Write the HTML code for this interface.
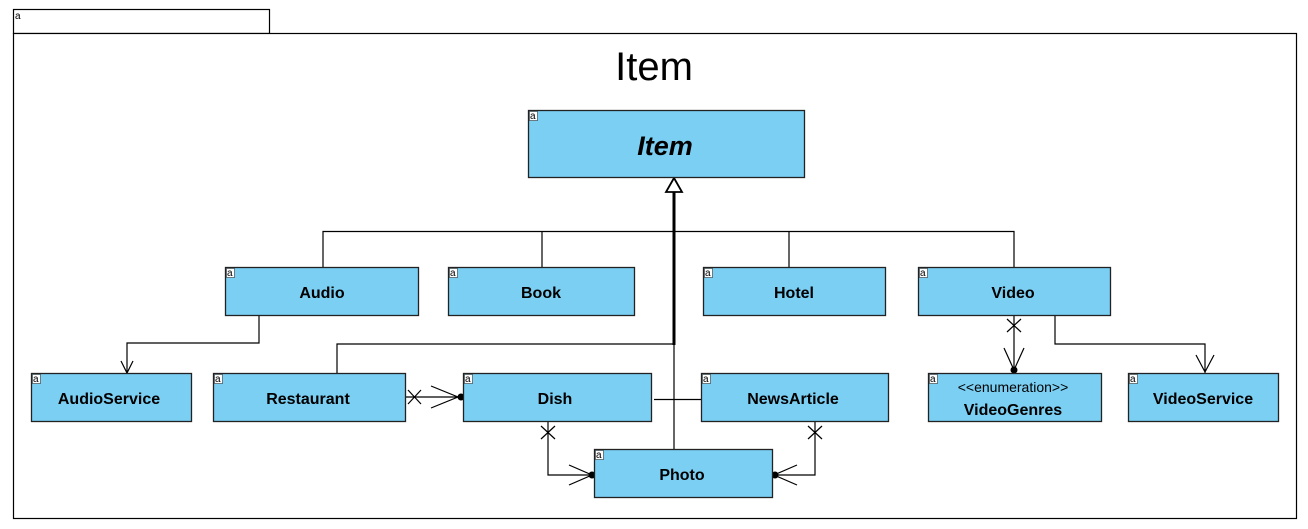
<!DOCTYPE html>
<html><head><meta charset="utf-8"><style>
html,body{margin:0;padding:0;background:#fff;}
svg{display:block;}
text{font-family:"Liberation Sans",Arial,sans-serif;}
.b{fill:#7acff3;stroke:#222;stroke-width:1.3;}
.t{font-weight:bold;font-size:16px;text-anchor:middle;fill:#000;}
.l{stroke:#000;stroke-width:1.2;fill:none;}
.a{font-size:10px;fill:#000;}
</style></head><body>
<svg width="1308" height="529" viewBox="0 0 1308 529">
<rect x="0" y="0" width="1308" height="529" fill="#fff"/>
<rect x="13.5" y="9.5" width="256" height="24" fill="#fff" stroke="#000" stroke-width="1.2"/>
<text x="15" y="19" class="a">a</text>
<rect x="13.5" y="33.5" width="1283" height="485" fill="#fff" stroke="#000" stroke-width="1.2"/>
<text x="654" y="80" font-size="40" text-anchor="middle">Item</text>

<g class="l">
<path d="M323 267V231.5H1014V267M542 231.5V267M789 231.5V267"/>
<path d="M337 373V344H674"/>
<path d="M654 399.5H701M674 344V449"/>
<path d="M259 315V343H127V373"/>
<path d="M121 361L127 373L133 361"/>
<path d="M405 397H461M431 386L458 397L431 408"/>
<path d="M408 390L421 404M421 390L408 404"/>
<path d="M548 421V475H592M569 465L592 475L569 485"/>
<path d="M541 426L555 439M555 426L541 439"/>
<path d="M815 421V475H774M797 465L774 475L797 485"/>
<path d="M808 426L822 439M822 426L808 439"/>
<path d="M1014 315V371M1004 348L1014 370L1024 348"/>
<path d="M1007 319L1021 332M1021 319L1007 332"/>
<path d="M1055 315V344H1205V373M1196 355L1205 372L1214 355"/>
</g>
<line x1="674" y1="192" x2="674" y2="345" stroke="#000" stroke-width="3"/>
<polygon points="674,178 666,192 682,192" fill="#fff" stroke="#000" stroke-width="1.8"/>
<circle cx="461" cy="397" r="3.5"/>
<circle cx="592" cy="475" r="3.5"/>
<circle cx="775" cy="475" r="3.5"/>
<circle cx="1014" cy="370" r="3.5"/>

<g>
<rect class="b" x="528.5" y="110.5" width="276" height="67"/>
<text x="665" y="155" font-size="27" font-weight="bold" font-style="italic" text-anchor="middle">Item</text>
<rect class="b" x="225.5" y="267.5" width="193" height="48"/><text class="t" x="322" y="298">Audio</text>
<rect class="b" x="448.5" y="267.5" width="186" height="48"/><text class="t" x="541" y="298">Book</text>
<rect class="b" x="703.5" y="267.5" width="182" height="48"/><text class="t" x="794" y="298">Hotel</text>
<rect class="b" x="918.5" y="267.5" width="192" height="48"/><text class="t" x="1013" y="298">Video</text>
<rect class="b" x="31.5" y="373.5" width="160" height="48"/><text class="t" x="109" y="404">AudioService</text>
<rect class="b" x="213.5" y="373.5" width="192" height="48"/><text class="t" x="308" y="404">Restaurant</text>
<rect class="b" x="463.5" y="373.5" width="188" height="48"/><text class="t" x="555" y="404">Dish</text>
<rect class="b" x="701.5" y="373.5" width="187" height="48"/><text class="t" x="793" y="404">NewsArticle</text>
<rect class="b" x="928.5" y="373.5" width="173" height="48"/>
<text x="1013" y="392" font-size="14" text-anchor="middle">&lt;&lt;enumeration&gt;&gt;</text>
<text class="t" x="1013" y="415">VideoGenres</text>
<rect class="b" x="1128.5" y="373.5" width="150" height="48"/><text class="t" x="1203" y="404">VideoService</text>
<rect class="b" x="594.5" y="449.5" width="178" height="48"/><text class="t" x="682" y="480">Photo</text>
</g>
<g fill="#fff" stroke="#333" stroke-width="0.6">
<rect x="529.5" y="111.5" width="8" height="9"/>
<rect x="226.5" y="268.5" width="8" height="9"/><rect x="449.5" y="268.5" width="8" height="9"/><rect x="704.5" y="268.5" width="8" height="9"/><rect x="919.5" y="268.5" width="8" height="9"/>
<rect x="32.5" y="374.5" width="8" height="9"/><rect x="214.5" y="374.5" width="8" height="9"/><rect x="464.5" y="374.5" width="8" height="9"/><rect x="702.5" y="374.5" width="8" height="9"/><rect x="929.5" y="374.5" width="8" height="9"/><rect x="1129.5" y="374.5" width="8" height="9"/>
<rect x="595.5" y="450.5" width="8" height="9"/>
</g>
<g class="a">
<text x="530" y="119">a</text>
<text x="227" y="276">a</text><text x="450" y="276">a</text><text x="705" y="276">a</text><text x="920" y="276">a</text>
<text x="33" y="382">a</text><text x="215" y="382">a</text><text x="465" y="382">a</text><text x="703" y="382">a</text><text x="930" y="382">a</text><text x="1130" y="382">a</text>
<text x="596" y="458">a</text>
</g>
</svg>
</body></html>
